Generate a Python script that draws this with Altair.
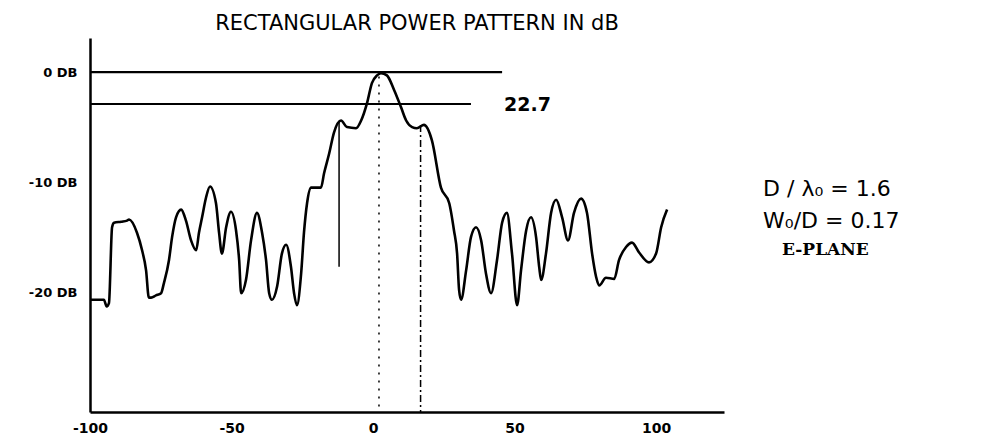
import altair as alt
import pandas as pd

# ---- measured pattern (angle in degrees, level in dB) ----
angles = [-100, -95.1, -94.1, -93.3, -92.2, -91.5, -89.0, -86.9, -86.2, -83.4,
          -81.6, -80.2, -79.2, -78.4, -76.7, -74.9, -73.9, -72.1, -71.0, -69.6,
          -67.8, -66.1, -64.3, -62.5, -61.5, -60.4, -59.0, -57.6, -55.5, -54.4,
          -53.4, -51.9, -50.2, -48.4, -47.3, -46.6, -44.9, -43.1, -41.0, -39.2,
          -37.8, -36.7, -35.7, -33.9, -32.2, -30.7, -29.0, -27.9, -26.9, -25.4,
          -24.4, -23.3, -21.9, -19.8, -18.4, -17.3, -15.5, -13.8, -11.3, -9.2,
          -6.0, -4.2, -2.1, -0.4, 1.4, 2.8, 4.9, 7.4, 9.9, 11.7,
          13.8, 15.5, 18.0, 20.8, 24.0, 26.9, 28.6, 29.7, 30.4, 31.1,
          32.9, 34.6, 36.4, 38.2, 39.9, 41.7, 43.8, 45.6, 47.3, 49.1,
          50.9, 52.3, 54.1, 55.8, 57.6, 58.7, 59.4, 61.1, 62.9, 64.7,
          66.8, 68.9, 71.0, 73.5, 75.6, 77.4, 78.8, 79.9, 82.3, 85.2,
          86.9, 89.4, 91.5, 94.0, 97.5, 100.0, 101.8, 103.9]
levels = [-20.7, -20.7, -21.3, -21.0, -14.1, -13.7, -13.6, -13.5, -13.4, -14.6,
          -16.2, -18.0, -20.5, -20.5, -20.3, -20.1, -19.2, -17.1, -15.0, -13.2,
          -12.5, -13.5, -15.3, -16.2, -14.6, -13.2, -11.4, -10.4, -11.9, -14.6,
          -16.5, -14.1, -12.7, -14.4, -17.1, -20.1, -18.9, -15.3, -12.8, -14.6,
          -17.1, -20.1, -20.7, -19.5, -16.5, -15.7, -17.7, -20.1, -21.2, -18.3,
          -14.6, -11.9, -10.5, -10.5, -10.5, -9.2, -7.4, -5.5, -4.4, -5.0,
          -5.1, -4.4, -2.8, -1.0, -0.3, -0.1, -0.3, -1.6, -3.2, -4.4,
          -5.0, -5.1, -4.8, -6.2, -10.5, -11.9, -14.4, -16.5, -19.8, -20.7,
          -18.0, -15.0, -14.1, -15.3, -18.3, -20.1, -17.1, -13.7, -12.8, -16.5,
          -21.2, -18.0, -14.4, -13.2, -15.0, -17.7, -18.9, -16.5, -12.8, -11.6,
          -13.2, -15.3, -12.8, -11.5, -12.8, -16.5, -18.6, -19.4, -18.7, -18.8,
          -17.1, -15.9, -15.5, -16.4, -17.3, -16.5, -14.1, -12.5]

# ---- axes ----
x_ticks = [-100, -50, 0, 50, 100]
y_ticks = [0, -10, -20]
y_tick_labels = ["0 DB", "-10 DB", "-20 DB"]
X_DOMAIN = [-100, 124]
Y_DOMAIN = [-30.9, 3.1]

# ---- reference lines ----
h_levels = [0, -2.9]
h_start = [-100, -100]
h_end = [45.6, 34.6]

v_angles = [-12.0, 2.1, 16.8]
v_top = [-4.5, -0.4, -4.8]
v_bottom = [-17.7, -30.9, -30.9]

# ---- annotations ----
ann_text = ["22.7", "D / λ₀ =  1.6", "W₀/D  =  0.17", "E-PLANE"]
ann_x = [45.6, 137.8, 137.8, 144.5]
ann_y = [-3.0, -10.6, -13.5, -16.2]

title_text = "RECTANGULAR POWER PATTERN IN dB"

pattern = pd.DataFrame({"angle": angles, "level": levels})
hdf = pd.DataFrame({"y": h_levels, "x0": h_start, "x1": h_end})
vdf = pd.DataFrame({"x": v_angles, "y0": v_top, "y1": v_bottom})

label_expr = " : ".join(
    f"datum.value == {v} ? '{t}'" for v, t in zip(y_ticks, y_tick_labels)
) + " : ''"

xscale = alt.Scale(domain=X_DOMAIN, nice=False, zero=False)
yscale = alt.Scale(domain=Y_DOMAIN, nice=False, zero=False)

xaxis = alt.Axis(values=x_ticks, title=None, grid=False, ticks=False,
                 domainColor="black", domainWidth=2.5,
                 labelFont="DejaVu Sans", labelFontWeight="bold",
                 labelFontSize=14, labelColor="black", labelPadding=9,
                 labelExpr="'' + datum.value", labelFlush=False)
yaxis = alt.Axis(values=y_ticks, title=None, grid=False, ticks=False,
                 domainColor="black", domainWidth=2.5,
                 labelFont="DejaVu Sans", labelFontWeight="bold",
                 labelFontSize=13, labelColor="black", labelPadding=13,
                 labelExpr=label_expr, labelFlush=False)

curve = alt.Chart(pattern).mark_line(color="black", strokeWidth=2.6,
                                     strokeJoin="round",
                                     interpolate="monotone").encode(
    x=alt.X("angle:Q", scale=xscale, axis=xaxis),
    y=alt.Y("level:Q", scale=yscale, axis=yaxis),
    order="angle:Q",
)

hrules = alt.Chart(hdf).mark_rule(color="black", strokeWidth=2.2).encode(
    x=alt.X("x0:Q", scale=xscale, axis=xaxis),
    x2="x1:Q",
    y=alt.Y("y:Q", scale=yscale, axis=yaxis),
)

vsolid = alt.Chart(vdf.iloc[[0]]).mark_rule(color="black", strokeWidth=1.5).encode(
    x=alt.X("x:Q", scale=xscale, axis=xaxis),
    y=alt.Y("y0:Q", scale=yscale, axis=yaxis),
    y2="y1:Q",
)
vdot = alt.Chart(vdf.iloc[[1]]).mark_rule(color="black", strokeWidth=1.5,
                                          strokeDash=[2, 6]).encode(
    x=alt.X("x:Q", scale=xscale, axis=xaxis),
    y=alt.Y("y0:Q", scale=yscale, axis=yaxis),
    y2="y1:Q",
)
vdashdot = alt.Chart(vdf.iloc[[2]]).mark_rule(color="black", strokeWidth=1.5,
                                              strokeDash=[7, 3, 2, 3]).encode(
    x=alt.X("x:Q", scale=xscale, axis=xaxis),
    y=alt.Y("y0:Q", scale=yscale, axis=yaxis),
    y2="y1:Q",
)

label_227 = alt.Chart(pd.DataFrame({"t": ann_text[:1], "x": ann_x[:1], "y": ann_y[:1]})).mark_text(
    align="left", baseline="middle", font="DejaVu Sans", fontSize=19,
    fontWeight="bold", color="black", dx=2).encode(
    x=alt.X("x:Q", scale=xscale, axis=xaxis),
    y=alt.Y("y:Q", scale=yscale, axis=yaxis),
    text="t:N",
)

params = alt.Chart(pd.DataFrame({"t": ann_text[1:3], "x": ann_x[1:3], "y": ann_y[1:3]})).mark_text(
    align="left", baseline="middle", font="DejaVu Sans", fontSize=22,
    color="black").encode(
    x=alt.X("x:Q", scale=xscale, axis=xaxis),
    y=alt.Y("y:Q", scale=yscale, axis=yaxis),
    text="t:N",
)

plane = alt.Chart(pd.DataFrame({"t": ann_text[3:], "x": ann_x[3:], "y": ann_y[3:]})).mark_text(
    align="left", baseline="middle", font="DejaVu Serif", fontSize=17,
    fontWeight="bold", color="black").encode(
    x=alt.X("x:Q", scale=xscale, axis=xaxis),
    y=alt.Y("y:Q", scale=yscale, axis=yaxis),
    text="t:N",
)

chart = alt.layer(hrules, vsolid, vdot, vdashdot, curve, label_227, params, plane).properties(
    width=634,
    height=374,
    title=alt.TitleParams(text=title_text, font="DejaVu Sans", fontSize=21,
                          fontWeight="normal", color="black", anchor="middle",
                          dx=10, offset=4),
    autosize=alt.AutoSizeParams(type="none"),
    padding={"left": 82, "top": 30, "right": 246, "bottom": 24},
).configure_view(stroke=None)

chart.save("out.html", embed_options={"renderer": "svg", "actions": False})
